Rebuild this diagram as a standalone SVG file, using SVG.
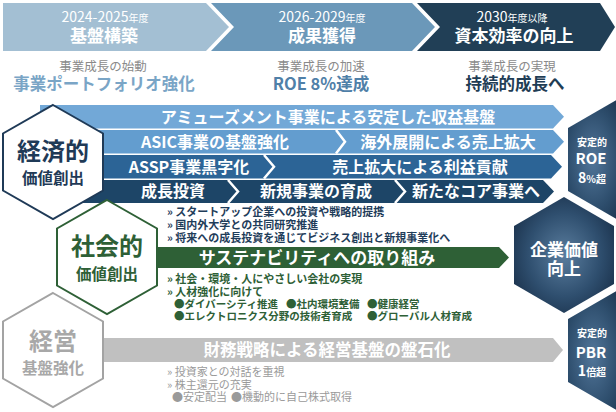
<svg xmlns="http://www.w3.org/2000/svg" width="616" height="412" viewBox="0 0 616 412">
<defs>
<radialGradient id="hexg" cx="0.5" cy="0.5" r="0.6">
<stop offset="0" stop-color="#5a7d9e"/>
<stop offset="0.6" stop-color="#2f4f6f"/>
<stop offset="1" stop-color="#1a314b"/>
</radialGradient>
<radialGradient id="sideg" cx="0.4" cy="0.5" r="0.7">
<stop offset="0" stop-color="#52769a"/>
<stop offset="0.6" stop-color="#2d4d6c"/>
<stop offset="1" stop-color="#1a314b"/>
</radialGradient>
</defs>
<style>
text{font-family:"Noto Sans CJK JP","Noto Sans",sans-serif}
.w{fill:#fff}
.b{font-weight:700}
.mid{text-anchor:middle}
.band{font-size:16px;font-weight:700;fill:#fff;text-anchor:middle}
.chev{fill:none;stroke:#fff;stroke-width:2.5}
.nv{fill:#1f3d5a;font-size:11px;font-weight:700}
.gr{fill:#2e6036;font-size:11px;font-weight:700}
.gr2{fill:#2e6036;font-size:10.5px;font-weight:700}
.gy{fill:#9a9a9a;font-size:11px}
.sub{font-size:12.5px;fill:#8a8a8a;text-anchor:middle}
</style>
<rect width="616" height="412" fill="#fff"/>

<g id="phase1">
<polygon points="3,3 206,3 229,27 206,51 3,51" fill="#a3bfd3"/>
<text x="105" y="22" class="w mid" font-size="14">2024-2025<tspan font-size="10">年度</tspan></text>
<text x="104" y="42" class="w mid b" font-size="17">基盤構築</text>
<text x="103" y="70.5" class="sub">事業成長の始動</text>
<text x="104" y="89.5" class="mid b" font-size="16.5" fill="#7aa5c6">事業ポートフォリオ強化</text>
</g>
<g id="phase2">
<polygon points="211,3 412,3 435,27 412,51 211,51 234,27" fill="#6b98b9"/>
<text x="322" y="22" class="w mid" font-size="14">2026-2029<tspan font-size="10">年度</tspan></text>
<text x="322" y="42" class="w mid b" font-size="17">成果獲得</text>
<text x="321" y="70.5" class="sub">事業成長の加速</text>
<text x="321" y="89.5" class="mid b" font-size="16.5" fill="#4f80a8">ROE 8%達成</text>
</g>
<g id="phase3">
<polygon points="417,3 600,3 615,27 600,51 417,51 440,27" fill="#213f56"/>
<text x="512" y="22" class="w mid" font-size="14">2030<tspan font-size="10">年度以降</tspan></text>
<text x="514" y="42" class="w mid b" font-size="17">資本効率の向上</text>
<text x="512" y="70.5" class="sub">事業成長の実現</text>
<text x="515" y="89.5" class="mid b" font-size="16.5" fill="#1f3d55">持続的成長へ</text>
</g>

<g id="band-amusement">
<polygon points="40,105 553,105 564,116.7 553,128.5 40,128.5" fill="#72a8d7"/>
<text x="328" y="122.5" class="band">アミューズメント事業による安定した収益基盤</text>
</g>
<g id="band-asic">
<polygon points="40,130 553,130 564,141.7 553,153.5 40,153.5" fill="#639dcf"/>
<polyline points="336,130 345,141.7 336,153.5" class="chev"/>
<text x="215" y="147.5" class="band">ASIC事業の基盤強化</text>
<text x="448" y="147.5" class="band">海外展開による売上拡大</text>
</g>
<g id="band-assp">
<polygon points="40,155 551,155 562,166.7 551,178.5 40,178.5" fill="#2c6496"/>
<polyline points="264,155 274,166.7 264,178.5" class="chev"/>
<text x="189" y="172.5" class="band">ASSP事業黒字化</text>
<text x="420" y="172.5" class="band">売上拡大による利益貢献</text>
</g>
<g id="band-growth">
<polygon points="40,180 543,180 554,191.5 543,203 40,203" fill="#1d4567"/>
<polyline points="228,180 238,191.5 228,203" class="chev"/>
<polyline points="395,180 405,191.5 395,203" class="chev"/>
<text x="173" y="197" class="band">成長投資</text>
<text x="316" y="197" class="band">新規事業の育成</text>
<text x="476" y="197" class="band">新たなコア事業へ</text>
</g>

<g id="notes-econ">
<text x="167" y="216" class="nv">» スタートアップ企業への投資や戦略的提携</text>
<text x="167" y="229" class="nv">» 国内外大学との共同研究推進</text>
<text x="167" y="242" class="nv">» 将来への成長投資を通じてビジネス創出と新規事業化へ</text>
</g>

<g id="band-sustain">
<polygon points="140,247 499,247 509,257.5 499,268 140,268" fill="#2e6036"/>
<text x="317" y="263.5" class="w mid b" font-size="17">サステナビリティへの取り組み</text>
</g>
<g id="notes-social">
<text x="167" y="283" class="gr">» 社会・環境・人にやさしい会社の実現</text>
<text x="167" y="296" class="gr">» 人材強化に向けて</text>
<text x="174" y="308" class="gr2">●ダイバーシティ推進</text>
<text x="286" y="308" class="gr2">●社内環境整備</text>
<text x="367" y="308" class="gr2">●健康経営</text>
<text x="174" y="320" class="gr2">●エレクトロニクス分野の技術者育成</text>
<text x="367" y="320" class="gr2">●グローバル人材育成</text>
</g>

<g id="band-finance">
<polygon points="90,338 553,338 563,350 553,362 90,362" fill="#c0c0c0"/>
<text x="327" y="356" class="w mid b" font-size="16.5">財務戦略による経営基盤の盤石化</text>
</g>
<g id="notes-mgmt">
<text x="167" y="376" class="gy">» 投資家との対話を重視</text>
<text x="167" y="389" class="gy">» 株主還元の充実</text>
<text x="172" y="401" class="gy">●安定配当</text>
<text x="231" y="401" class="gy">●機動的に自己株式取得</text>
</g>

<g id="hex-econ">
<polygon points="53,105 103,133.5 103,190.5 53,219 3,190.5 3,133.5" fill="#fff" stroke="#1f3a57" stroke-width="2"/>
<text x="53" y="160" class="mid b" font-size="24" fill="#1f3a57">経済的</text>
<text x="53" y="184" class="mid b" font-size="15.5" fill="#1f3a57">価値創出</text>
</g>
<g id="hex-social">
<polygon points="107,200 157,228.5 157,285.5 107,314 57,285.5 57,228.5" fill="#fff" stroke="#2e6036" stroke-width="2"/>
<text x="107" y="255" class="mid b" font-size="24" fill="#2e6036">社会的</text>
<text x="107" y="280" class="mid b" font-size="15.5" fill="#2e6036">価値創出</text>
</g>
<g id="hex-mgmt">
<polygon points="53,293 103,321.5 103,378.5 53,407 3,378.5 3,321.5" fill="#fff" stroke="#a3a3a3" stroke-width="2"/>
<text x="53" y="350" class="mid b" font-size="24" fill="#a8a8a8">経営</text>
<text x="53" y="374" class="mid b" font-size="15.5" fill="#a8a8a8">基盤強化</text>
</g>

<g id="hex-roe">
<polygon points="568,128 616,100.3 630,100 630,219 616,218.7 568,191" fill="url(#sideg)"/>
<text x="592" y="146" class="w mid b" font-size="10">安定的</text>
<text x="591" y="164" class="w mid b" font-size="15">ROE</text>
<text x="592" y="183" class="w mid b" font-size="14">8<tspan font-size="10">%超</tspan></text>
</g>
<g id="hex-value">
<polygon points="564,197 614,226 614,284 564,313 514,284 514,226" fill="url(#hexg)"/>
<text x="564" y="256" class="w mid b" font-size="17">企業価値</text>
<text x="564" y="275" class="w mid b" font-size="17">向上</text>
</g>
<g id="hex-pbr">
<polygon points="568,319 616,291.3 630,291 630,420 616,409.7 568,382" fill="url(#sideg)"/>
<text x="592" y="337" class="w mid b" font-size="10">安定的</text>
<text x="591" y="358" class="w mid b" font-size="15">PBR</text>
<text x="592" y="376" class="w mid b" font-size="14">1<tspan font-size="10">倍超</tspan></text>
</g>
<g id="connectors"/>
</svg>
